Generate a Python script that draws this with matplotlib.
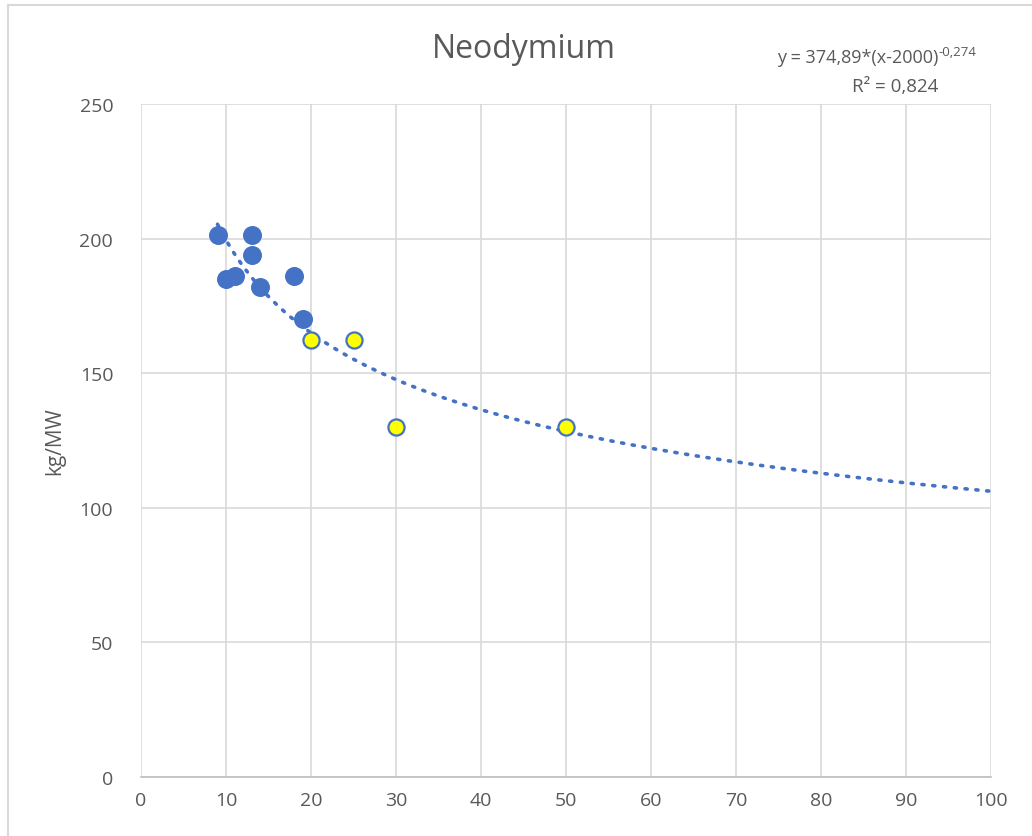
import numpy as np
import matplotlib
matplotlib.use("Agg")
import matplotlib.pyplot as plt
from matplotlib.lines import Line2D

plt.rcParams['font.family'] = ['Open Sans', 'DejaVu Sans']

# Data
blue_x = [9, 10, 11, 13, 13, 14, 18, 19]
blue_y = [201.5, 185, 186, 201.5, 194, 182, 186, 170]
yellow_x = [20, 25, 30, 50]
yellow_y = [162.5, 162.5, 130, 130]
trend_a = 374.89
trend_b = -0.274
trend_range = [9, 100]
x_ticks = [0, 10, 20, 30, 40, 50, 60, 70, 80, 90, 100]
y_ticks = [0, 50, 100, 150, 200, 250]

W, H = 1032, 837
fig = plt.figure(figsize=(W / 100, H / 100), dpi=100)
ax = fig.add_axes([141 / W, 1 - 778 / H, (991 - 141) / W, (778 - 105) / H])

grid_c = '#d9d9d9'
text_c = '#595959'
blue = '#4472c4'

ax.set_xlim(0, 100)
ax.set_ylim(0, 250)
ax.set_xticks(x_ticks)
ax.set_yticks(y_ticks)
ax.grid(True, color=grid_c, linewidth=1.2)
ax.set_axisbelow(True)
for s in ['top', 'right', 'left']:
    ax.spines[s].set_visible(False)
ax.spines['bottom'].set_color('#bfbfbf')
ax.spines['bottom'].set_linewidth(1.2)
ax.tick_params(axis='both', length=0, labelsize=14, colors=text_c, pad=10)
ax.tick_params(axis='y', pad=20)

# trend line
tx = np.linspace(trend_range[0], trend_range[1], 400)
ty = trend_a * tx ** trend_b
ax.plot(tx, ty, linestyle=(0, (0.6, 2.4)), color=blue, linewidth=2.6,
        dash_capstyle='round', zorder=2)

ax.scatter(blue_x, blue_y, s=160, color=blue, edgecolors=blue, zorder=3)
ax.scatter(yellow_x, yellow_y, s=135, color='#ffff00', edgecolors=blue,
           linewidths=1.6, zorder=4)

ax.set_ylabel('kg/MW', fontsize=15, color=text_c, labelpad=10)

fig.text(524 / W, 1 - 50 / H, 'Neodymium', fontsize=23, color=text_c,
         ha='center', va='center')

# equation with superscript
sup = fig.text(976 / W, 1 - 52 / H, '-0,274', fontsize=9.5, color=text_c,
               ha='right', va='center')
fig.canvas.draw()
bb = sup.get_window_extent(renderer=fig.canvas.get_renderer())
fig.text(bb.x0 / W, 1 - 58 / H, 'y = 374,89*(x-2000)', fontsize=13,
         color=text_c, ha='right', va='center')
fig.text(895 / W, 1 - 87 / H, 'R² = 0,824', fontsize=13.5, color=text_c,
         ha='center', va='center')

# outer chart border
fig.add_artist(Line2D([8 / W, 8 / W], [0, 1 - 6 / H], transform=fig.transFigure,
                      color=grid_c, linewidth=1.5))
fig.add_artist(Line2D([8 / W, 1], [1 - 6 / H, 1 - 6 / H], transform=fig.transFigure,
                      color=grid_c, linewidth=1.5))

fig.savefig('out.png', dpi=100)
